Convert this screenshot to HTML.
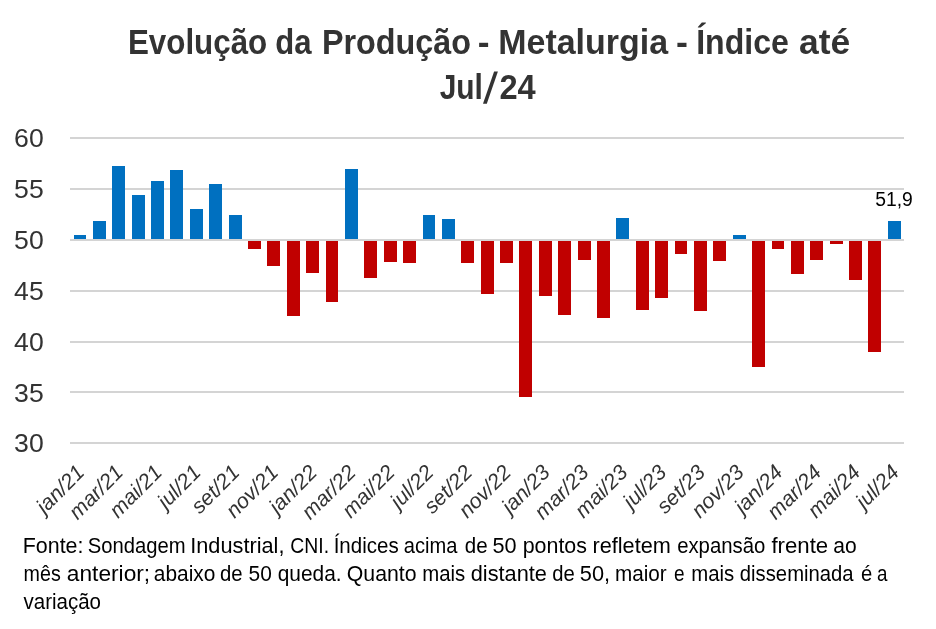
<!DOCTYPE html>
<html><head><meta charset="utf-8"><style>
html,body{margin:0;padding:0;background:#fff;}
svg{display:block;font-family:"Liberation Sans",sans-serif;will-change:transform;}
</style></head><body>
<svg width="936" height="629" viewBox="0 0 936 629">
<rect width="936" height="629" fill="#fff"/>
<g fill="#333333" font-weight="bold" font-size="35">
<text x="127.91" y="53.5" textLength="139.33" lengthAdjust="spacingAndGlyphs">Evolução</text>
<text x="275.21" y="53.5" textLength="36.26" lengthAdjust="spacingAndGlyphs">da</text>
<text x="321.95" y="53.5" textLength="149.06" lengthAdjust="spacingAndGlyphs">Produção</text>
<text x="477.89" y="53.5" textLength="11.79" lengthAdjust="spacingAndGlyphs">-</text>
<text x="498.26" y="53.5" textLength="169.79" lengthAdjust="spacingAndGlyphs">Metalurgia</text>
<text x="676.08" y="53.5" textLength="11.92" lengthAdjust="spacingAndGlyphs">-</text>
<text x="696.17" y="53.5" textLength="92.68" lengthAdjust="spacingAndGlyphs">Índice</text>
<text x="798.99" y="53.5" textLength="51.12" lengthAdjust="spacingAndGlyphs">até</text>
<text x="439.64" y="98.5" textLength="43.26" lengthAdjust="spacingAndGlyphs">Jul</text>
<text x="499.47" y="98.5" textLength="36.27" lengthAdjust="spacingAndGlyphs">24</text>
<polygon points="494.1,71.4 497.9,71.4 486.8,103.8 483,103.8"/>
</g>
<rect x="70" y="137" width="834" height="2" fill="#D4D4D4"/><rect x="70" y="188" width="834" height="2" fill="#D4D4D4"/><rect x="70" y="290" width="834" height="2" fill="#D4D4D4"/><rect x="70" y="341" width="834" height="2" fill="#D4D4D4"/><rect x="70" y="391" width="834" height="2" fill="#D4D4D4"/><rect x="70" y="442" width="834" height="2" fill="#D4D4D4"/>
<rect x="74" y="235" width="12" height="5" fill="#0070C0"/><rect x="93" y="221" width="13" height="19" fill="#0070C0"/><rect x="112" y="166" width="13" height="74" fill="#0070C0"/><rect x="132" y="195" width="13" height="45" fill="#0070C0"/><rect x="151" y="181" width="13" height="59" fill="#0070C0"/><rect x="170" y="170" width="13" height="70" fill="#0070C0"/><rect x="190" y="209" width="13" height="31" fill="#0070C0"/><rect x="209" y="184" width="13" height="56" fill="#0070C0"/><rect x="229" y="215" width="13" height="25" fill="#0070C0"/><rect x="248" y="240" width="13" height="9" fill="#C00000"/><rect x="267" y="240" width="13" height="26" fill="#C00000"/><rect x="287" y="240" width="13" height="76" fill="#C00000"/><rect x="306" y="240" width="13" height="33" fill="#C00000"/><rect x="326" y="240" width="12" height="62" fill="#C00000"/><rect x="345" y="169" width="13" height="71" fill="#0070C0"/><rect x="364" y="240" width="13" height="38" fill="#C00000"/><rect x="384" y="240" width="13" height="22" fill="#C00000"/><rect x="403" y="240" width="13" height="23" fill="#C00000"/><rect x="423" y="215" width="12" height="25" fill="#0070C0"/><rect x="442" y="219" width="13" height="21" fill="#0070C0"/><rect x="461" y="240" width="13" height="23" fill="#C00000"/><rect x="481" y="240" width="13" height="54" fill="#C00000"/><rect x="500" y="240" width="13" height="23" fill="#C00000"/><rect x="519" y="240" width="13" height="157" fill="#C00000"/><rect x="539" y="240" width="13" height="56" fill="#C00000"/><rect x="558" y="240" width="13" height="75" fill="#C00000"/><rect x="578" y="240" width="13" height="20" fill="#C00000"/><rect x="597" y="240" width="13" height="78" fill="#C00000"/><rect x="616" y="218" width="13" height="22" fill="#0070C0"/><rect x="636" y="240" width="13" height="70" fill="#C00000"/><rect x="655" y="240" width="13" height="58" fill="#C00000"/><rect x="675" y="240" width="12" height="14" fill="#C00000"/><rect x="694" y="240" width="13" height="71" fill="#C00000"/><rect x="713" y="240" width="13" height="21" fill="#C00000"/><rect x="733" y="235" width="13" height="5" fill="#0070C0"/><rect x="752" y="240" width="13" height="127" fill="#C00000"/><rect x="772" y="240" width="12" height="9" fill="#C00000"/><rect x="791" y="240" width="13" height="34" fill="#C00000"/><rect x="810" y="240" width="13" height="20" fill="#C00000"/><rect x="830" y="240" width="13" height="4" fill="#C00000"/><rect x="849" y="240" width="13" height="40" fill="#C00000"/><rect x="868" y="240" width="13" height="112" fill="#C00000"/><rect x="888" y="221" width="13" height="19" fill="#0070C0"/>
<rect x="70" y="239" width="834" height="2" fill="#D4D4D4"/>
<g fill="#333333" font-size="25">
<text x="14.1" y="147.33" textLength="29.6" lengthAdjust="spacingAndGlyphs">60</text><text x="14.1" y="198.17" textLength="29.6" lengthAdjust="spacingAndGlyphs">55</text><text x="14.1" y="249.00" textLength="29.6" lengthAdjust="spacingAndGlyphs">50</text><text x="14.1" y="299.83" textLength="29.6" lengthAdjust="spacingAndGlyphs">45</text><text x="14.1" y="350.67" textLength="29.6" lengthAdjust="spacingAndGlyphs">40</text><text x="14.1" y="401.50" textLength="29.6" lengthAdjust="spacingAndGlyphs">35</text><text x="14.1" y="452.33" textLength="29.6" lengthAdjust="spacingAndGlyphs">30</text>
</g>
<text x="875.2" y="206.2" font-size="20" fill="#000" textLength="37.6" lengthAdjust="spacingAndGlyphs">51,9</text>
<g fill="#333333" font-size="21.3" font-style="italic">
<text transform="translate(85.70,473.7) rotate(-45)" text-anchor="end">jan/21</text><text transform="translate(124.49,473.7) rotate(-45)" text-anchor="end">mar/21</text><text transform="translate(163.28,473.7) rotate(-45)" text-anchor="end">mai/21</text><text transform="translate(202.07,473.7) rotate(-45)" text-anchor="end">jul/21</text><text transform="translate(240.86,473.7) rotate(-45)" text-anchor="end">set/21</text><text transform="translate(279.65,473.7) rotate(-45)" text-anchor="end">nov/21</text><text transform="translate(318.44,473.7) rotate(-45)" text-anchor="end">jan/22</text><text transform="translate(357.23,473.7) rotate(-45)" text-anchor="end">mar/22</text><text transform="translate(396.02,473.7) rotate(-45)" text-anchor="end">mai/22</text><text transform="translate(434.81,473.7) rotate(-45)" text-anchor="end">jul/22</text><text transform="translate(473.60,473.7) rotate(-45)" text-anchor="end">set/22</text><text transform="translate(512.40,473.7) rotate(-45)" text-anchor="end">nov/22</text><text transform="translate(551.19,473.7) rotate(-45)" text-anchor="end">jan/23</text><text transform="translate(589.98,473.7) rotate(-45)" text-anchor="end">mar/23</text><text transform="translate(628.77,473.7) rotate(-45)" text-anchor="end">mai/23</text><text transform="translate(667.56,473.7) rotate(-45)" text-anchor="end">jul/23</text><text transform="translate(706.35,473.7) rotate(-45)" text-anchor="end">set/23</text><text transform="translate(745.14,473.7) rotate(-45)" text-anchor="end">nov/23</text><text transform="translate(783.93,473.7) rotate(-45)" text-anchor="end">jan/24</text><text transform="translate(822.72,473.7) rotate(-45)" text-anchor="end">mar/24</text><text transform="translate(861.51,473.7) rotate(-45)" text-anchor="end">mai/24</text><text transform="translate(900.30,473.7) rotate(-45)" text-anchor="end">jul/24</text>
</g>
<g fill="#000" font-size="21.3">
<text x="22.79" y="552.8" textLength="60.71" lengthAdjust="spacingAndGlyphs">Fonte:</text><text x="87.85" y="552.8" textLength="97.81" lengthAdjust="spacingAndGlyphs">Sondagem</text><text x="190.26" y="552.8" textLength="94.21" lengthAdjust="spacingAndGlyphs">Industrial,</text><text x="290.29" y="552.8" textLength="38.77" lengthAdjust="spacingAndGlyphs">CNI.</text><text x="333.67" y="552.8" textLength="64.99" lengthAdjust="spacingAndGlyphs">Índices</text><text x="403.86" y="552.8" textLength="53.57" lengthAdjust="spacingAndGlyphs">acima</text><text x="464.84" y="552.8" textLength="22.84" lengthAdjust="spacingAndGlyphs">de</text><text x="492.48" y="552.8" textLength="24.13" lengthAdjust="spacingAndGlyphs">50</text><text x="522.7" y="552.8" textLength="64.26" lengthAdjust="spacingAndGlyphs">pontos</text><text x="592.48" y="552.8" textLength="78.37" lengthAdjust="spacingAndGlyphs">refletem</text><text x="677.14" y="552.8" textLength="88.27" lengthAdjust="spacingAndGlyphs">expansão</text><text x="771.4" y="552.8" textLength="56.83" lengthAdjust="spacingAndGlyphs">frente</text><text x="833.21" y="552.8" textLength="23.38" lengthAdjust="spacingAndGlyphs">ao</text><text x="23.58" y="580.7" textLength="37.16" lengthAdjust="spacingAndGlyphs">mês</text><text x="66.83" y="580.7" textLength="83.35" lengthAdjust="spacingAndGlyphs">anterior;</text><text x="153.82" y="580.7" textLength="61.53" lengthAdjust="spacingAndGlyphs">abaixo</text><text x="220.05" y="580.7" textLength="22.63" lengthAdjust="spacingAndGlyphs">de</text><text x="248.52" y="580.7" textLength="23.27" lengthAdjust="spacingAndGlyphs">50</text><text x="277.72" y="580.7" textLength="63.88" lengthAdjust="spacingAndGlyphs">queda.</text><text x="346.8" y="580.7" textLength="69.77" lengthAdjust="spacingAndGlyphs">Quanto</text><text x="422.24" y="580.7" textLength="42.98" lengthAdjust="spacingAndGlyphs">mais</text><text x="470.78" y="580.7" textLength="76.13" lengthAdjust="spacingAndGlyphs">distante</text><text x="552.25" y="580.7" textLength="22.52" lengthAdjust="spacingAndGlyphs">de</text><text x="579.88" y="580.7" textLength="30.27" lengthAdjust="spacingAndGlyphs">50,</text><text x="615.03" y="580.7" textLength="51.73" lengthAdjust="spacingAndGlyphs">maior</text><text x="674.11" y="580.7" textLength="10.55" lengthAdjust="spacingAndGlyphs">e</text><text x="691.24" y="580.7" textLength="42.98" lengthAdjust="spacingAndGlyphs">mais</text><text x="739.85" y="580.7" textLength="113.75" lengthAdjust="spacingAndGlyphs">disseminada</text><text x="861.05" y="580.7" textLength="11.27" lengthAdjust="spacingAndGlyphs">é</text><text x="877.12" y="580.7" textLength="10.46" lengthAdjust="spacingAndGlyphs">a</text><text x="23.5" y="608.6" textLength="77.48" lengthAdjust="spacingAndGlyphs">variação</text>
</g>
</svg>
</body></html>
